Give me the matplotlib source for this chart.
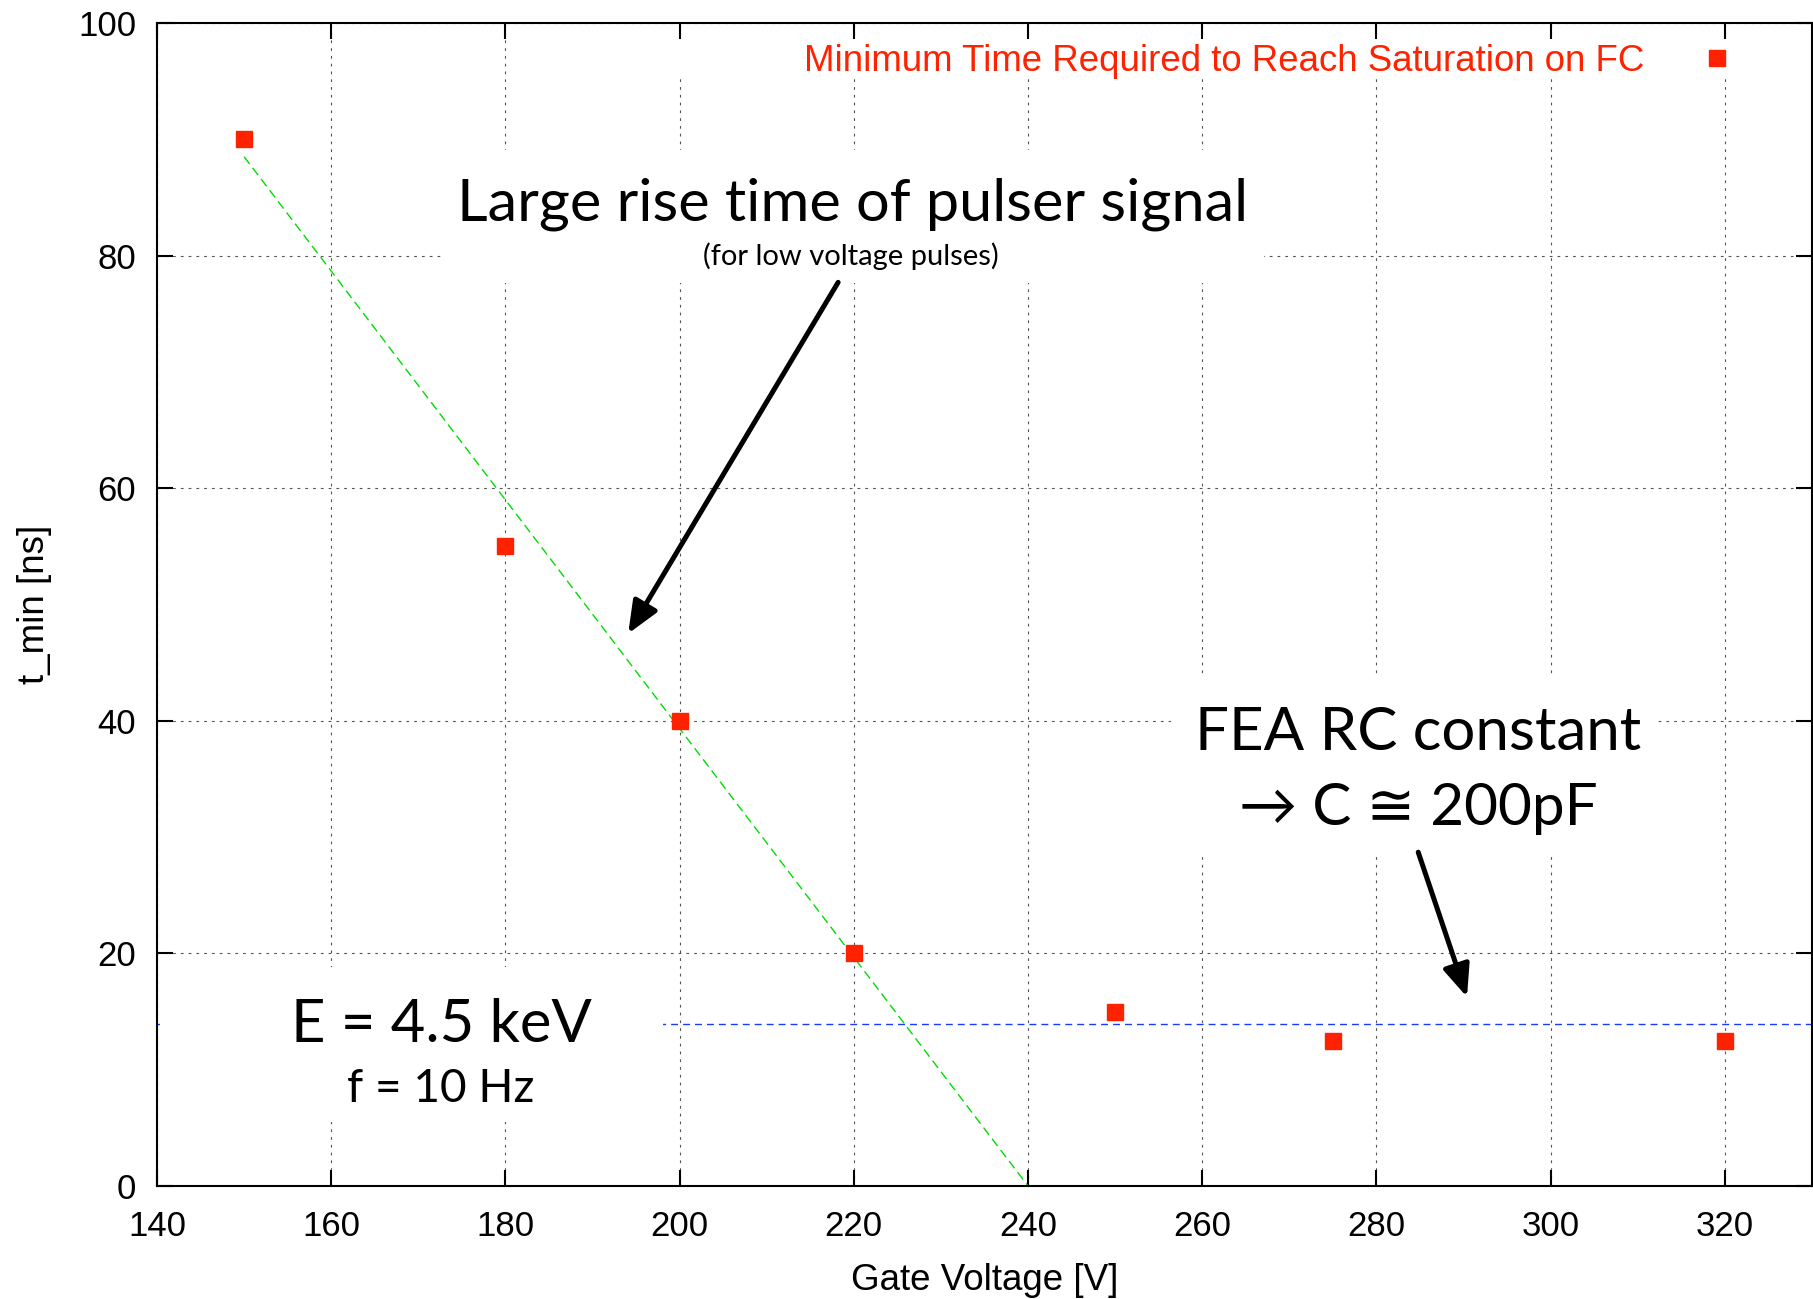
import matplotlib.pyplot as plt
from matplotlib.patches import Rectangle

# measured minimum time to reach saturation on the Faraday cup
gate_voltage = [150, 180, 200, 220, 250, 275, 320]
t_min = [90, 55, 40, 20, 15, 12.5, 12.5]

# linear trend for low voltage pulses (start / end points)
fit_x = [150, 240]
fit_y = [88.5, 0]

# flat level set by the FEA RC constant
rc_level = 13.9

x_ticks = [140, 160, 180, 200, 220, 240, 260, 280, 300, 320]
y_ticks = [0, 20, 40, 60, 80, 100]

plot_font = "Liberation Sans"
note_font = ["Lato", "DejaVu Sans"]
red = "#ff2200"

plt.rcParams["font.family"] = plot_font

fig = plt.figure(figsize=(18.13, 12.99), dpi=100)
ax = fig.add_axes([0.0866, 0.087, 0.9128, 0.8953])

# -----------------------------
# grid and frame
# -----------------------------
ax.set_xlim(140, 330)
ax.set_ylim(0, 100)
ax.set_xticks(x_ticks)
ax.set_yticks(y_ticks)
ax.set_axisbelow(True)
ax.grid(True, color="#555555", linewidth=0.8, linestyle=(0, (2.5, 4.5)))

for side in ax.spines.values():
    side.set_linewidth(1.5)
    side.set_zorder(6)

ax.tick_params(direction="in", length=11.5, width=1.5, top=True, right=True,
               labelsize=25, pad=15)
ax.tick_params(axis="x", pad=17)

ax.set_xlabel("Gate Voltage [V]", fontsize=26.5, labelpad=15)
ax.set_ylabel("t_min [ns]", fontsize=26.5, labelpad=19)

# -----------------------------
# data, fit and RC level
# -----------------------------
ax.axhline(rc_level, color="#1a3cff", linewidth=1.0, linestyle=(0, (5, 3.6)),
           zorder=1)

ax.plot(fit_x, fit_y, color="#00dd00", linewidth=1.0,
        linestyle=(0, (6.5, 3.6)), zorder=2)

ax.plot(gate_voltage, t_min, linestyle="none", marker="s", markersize=11,
        color=red, zorder=5,
        label="Minimum Time Required to Reach Saturation on FC")

# white boxes behind the notes (they hide the grid)
boxes = [
    (0.2616, 0.9527, 0.7384, 0.0335),
    (0.1722, 0.7764, 0.4967, 0.1144),
    (0.6127, 0.2846, 0.2924, 0.1531),
    (0.002, 0.0550, 0.3037, 0.1333),
]
for bx, by, bw, bh in boxes:
    ax.add_patch(Rectangle((bx, by), bw, bh, transform=ax.transAxes,
                           facecolor="white", edgecolor="none", zorder=1.5))

leg = ax.legend(loc="center right", bbox_to_anchor=(0.9646, 0.967),
                frameon=False, markerfirst=False, handlelength=2,
                handletextpad=0.97, borderpad=0, borderaxespad=0,
                fontsize=26.4, labelcolor="linecolor")
leg.set_zorder(7)

# -----------------------------
# notes and arrows
# -----------------------------
ax.text(219.8, 83.0, "Large rise time of pulser signal", fontsize=42.8,
        family=note_font, ha="center", va="baseline", zorder=7)
ax.text(219.7, 79.2, "(for low voltage pulses)", fontsize=21,
        family=note_font, ha="center", va="baseline", zorder=7)

ax.annotate("", xy=(194.1, 47.5), xytext=(218.2, 77.7),
            arrowprops=dict(arrowstyle="-|>,head_length=0.97,head_width=0.41",
                            mutation_scale=20, color="black", lw=3.6,
                            shrinkA=0, shrinkB=0),
            zorder=7)

ax.text(284.8, 37.5, "FEA RC constant", fontsize=43.2,
        family=note_font, ha="center", va="baseline", zorder=7)
ax.text(284.8, 31.0, "\u2192 C \u2245 200pF", fontsize=42,
        family=note_font, ha="center", va="baseline", zorder=7)

ax.annotate("", xy=(290.4, 16.25), xytext=(284.8, 28.7),
            arrowprops=dict(arrowstyle="-|>,head_length=0.97,head_width=0.41",
                            mutation_scale=20, color="black", lw=3.6,
                            shrinkA=0, shrinkB=0),
            zorder=7)

ax.text(172.7, 12.38, "E = 4.5 keV", fontsize=43,
        family=note_font, ha="center", va="baseline", zorder=7)
ax.text(172.6, 7.2, "f = 10 Hz", fontsize=33,
        family=note_font, ha="center", va="baseline", zorder=7)

plt.savefig("out.png", dpi=100)
